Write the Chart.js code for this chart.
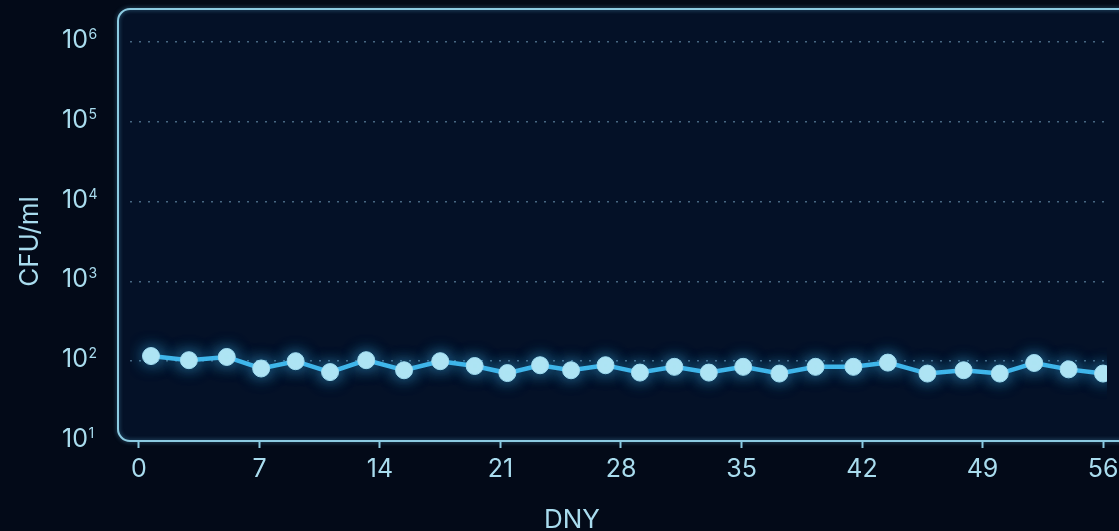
<!DOCTYPE html>
<html>
<head>
<meta charset="utf-8">
<script src="https://cdn.jsdelivr.net/npm/chart.js@4"></script>
<style>
  html, body { margin: 0; padding: 0; background: #030a18; }
  #wrap { width: 1119px; height: 531px; position: relative; overflow: hidden; }
</style>
</head>
<body>
<div id="wrap"><canvas id="grafica"></canvas></div>
<script>
// Dias de muestreo y conteo (CFU/ml)
const dias = [0.7, 2.9, 5.1, 7.1, 9.1, 11.1, 13.2, 15.4, 17.5, 19.5, 21.4, 23.3, 25.1, 27.1,
              29.1, 31.1, 33.1, 35.1, 37.2, 39.3, 41.5, 43.5, 45.8, 47.9, 50.0, 52.0, 54.0, 56.0];
const conteos = [116, 103, 113, 81, 100, 73, 103, 77, 100, 87, 71, 89, 77, 89,
                 72, 85, 72, 85, 70, 85, 85, 96, 70, 77, 70, 95, 79, 70];
const exponentes = [1, 2, 3, 4, 5, 6];

const colorTexto = '#a9dcee';
const colorBorde = '#8ccbe2';
const fuente = 'Inter, "Liberation Sans", sans-serif';

const puntos = dias.map((d, i) => ({ x: d, y: conteos[i] }));

// marco redondeado, fondo del area, etiquetas 10^n y titulo del eje x
const marco = {
  id: 'marco',
  beforeDraw(chart) {
    const ctx = chart.ctx;
    const a = chart.chartArea;
    ctx.save();
    ctx.beginPath();
    ctx.roundRect(a.left - 12, a.top - 33, chart.width + 40 - (a.left - 12), a.bottom - (a.top - 33), 12);
    ctx.fillStyle = '#041127';
    ctx.fill();
    ctx.restore();
  },
  beforeDatasetsDraw(chart) {
    const ctx = chart.ctx;
    const a = chart.chartArea;
    ctx.save();
    ctx.beginPath();
    ctx.roundRect(a.left - 12, a.top - 33, chart.width + 40 - (a.left - 12), a.bottom - (a.top - 33), 12);
    ctx.strokeStyle = colorBorde;
    ctx.lineWidth = 2;
    ctx.shadowColor = 'rgba(110, 200, 240, 0.5)';
    ctx.shadowBlur = 4;
    ctx.stroke();
    ctx.restore();
    // brillo de la linea
    ctx.save();
    ctx.shadowColor = 'rgba(60, 180, 240, 0.6)';
    ctx.shadowBlur = 16;
  },
  afterDatasetsDraw(chart) {
    chart.ctx.restore();
  },
  afterDraw(chart) {
    const ctx = chart.ctx;
    const y = chart.scales.y;
    ctx.save();
    ctx.fillStyle = colorTexto;
    ctx.textBaseline = 'alphabetic';
    y.ticks.forEach(t => {
      const py = y.getPixelForValue(t.value);
      const exp = String(Math.round(Math.log10(t.value)));
      ctx.font = '25px ' + fuente;
      ctx.textAlign = 'right';
      ctx.fillText('10', 88, py + 6);
      ctx.font = '14px ' + fuente;
      ctx.textAlign = 'left';
      ctx.fillText(exp, 88.5, py - 3);
    });
    ctx.font = '26px ' + fuente;
    ctx.textAlign = 'center';
    ctx.textBaseline = 'middle';
    ctx.fillText('DNY', 572, 520);
    ctx.restore();
  }
};

new Chart(document.querySelector('#grafica'), {
  type: 'line',
  data: {
    datasets: [{
      data: puntos,
      borderColor: '#43b8ea',
      borderWidth: 4.5,
      backgroundColor: '#b3e6f4',
      pointBackgroundColor: '#b3e6f4',
      pointBorderColor: '#9fdcf0',
      pointBorderWidth: 1,
      pointRadius: 8.5,
      tension: 0
    }]
  },
  options: {
    responsive: true,
    maintainAspectRatio: false,
    animation: false,
    layout: { padding: { top: 42, right: 12, left: 0, bottom: 0 } },
    plugins: {
      legend: { display: false },
      tooltip: { enabled: false }
    },
    scales: {
      x: {
        type: 'linear',
        min: -0.52,
        max: 56.23,
        afterFit(scale) {
          scale.height = 90;
          scale.paddingLeft = 0;
          scale.paddingRight = 0;
        },
        ticks: {
          stepSize: 7,
          includeBounds: false,
          color: colorTexto,
          font: { family: fuente, size: 25 },
          padding: 6
        },
        grid: {
          drawOnChartArea: false,
          drawTicks: true,
          tickLength: 7,
          tickColor: colorBorde,
          tickWidth: 2
        },
        border: { display: false }
      },
      y: {
        type: 'logarithmic',
        min: 10,
        max: 1e6,
        afterFit(scale) {
          scale.width = 130;
          scale.paddingTop = 0;
          scale.paddingBottom = 0;
        },
        afterBuildTicks(scale) {
          scale.ticks = exponentes.map(e => ({ value: Math.pow(10, e) }));
        },
        ticks: { display: false },
        grid: {
          color: 'rgba(130, 175, 205, 0.55)',
          lineWidth: 1.5,
          drawTicks: false
        },
        border: { display: false, dash: [2, 7] },
        title: {
          display: true,
          text: 'CFU/ml',
          color: colorTexto,
          font: { family: fuente, size: 26 },
          padding: { top: 15, bottom: 0 }
        }
      }
    }
  },
  plugins: [marco]
});
</script>
</body>
</html>
